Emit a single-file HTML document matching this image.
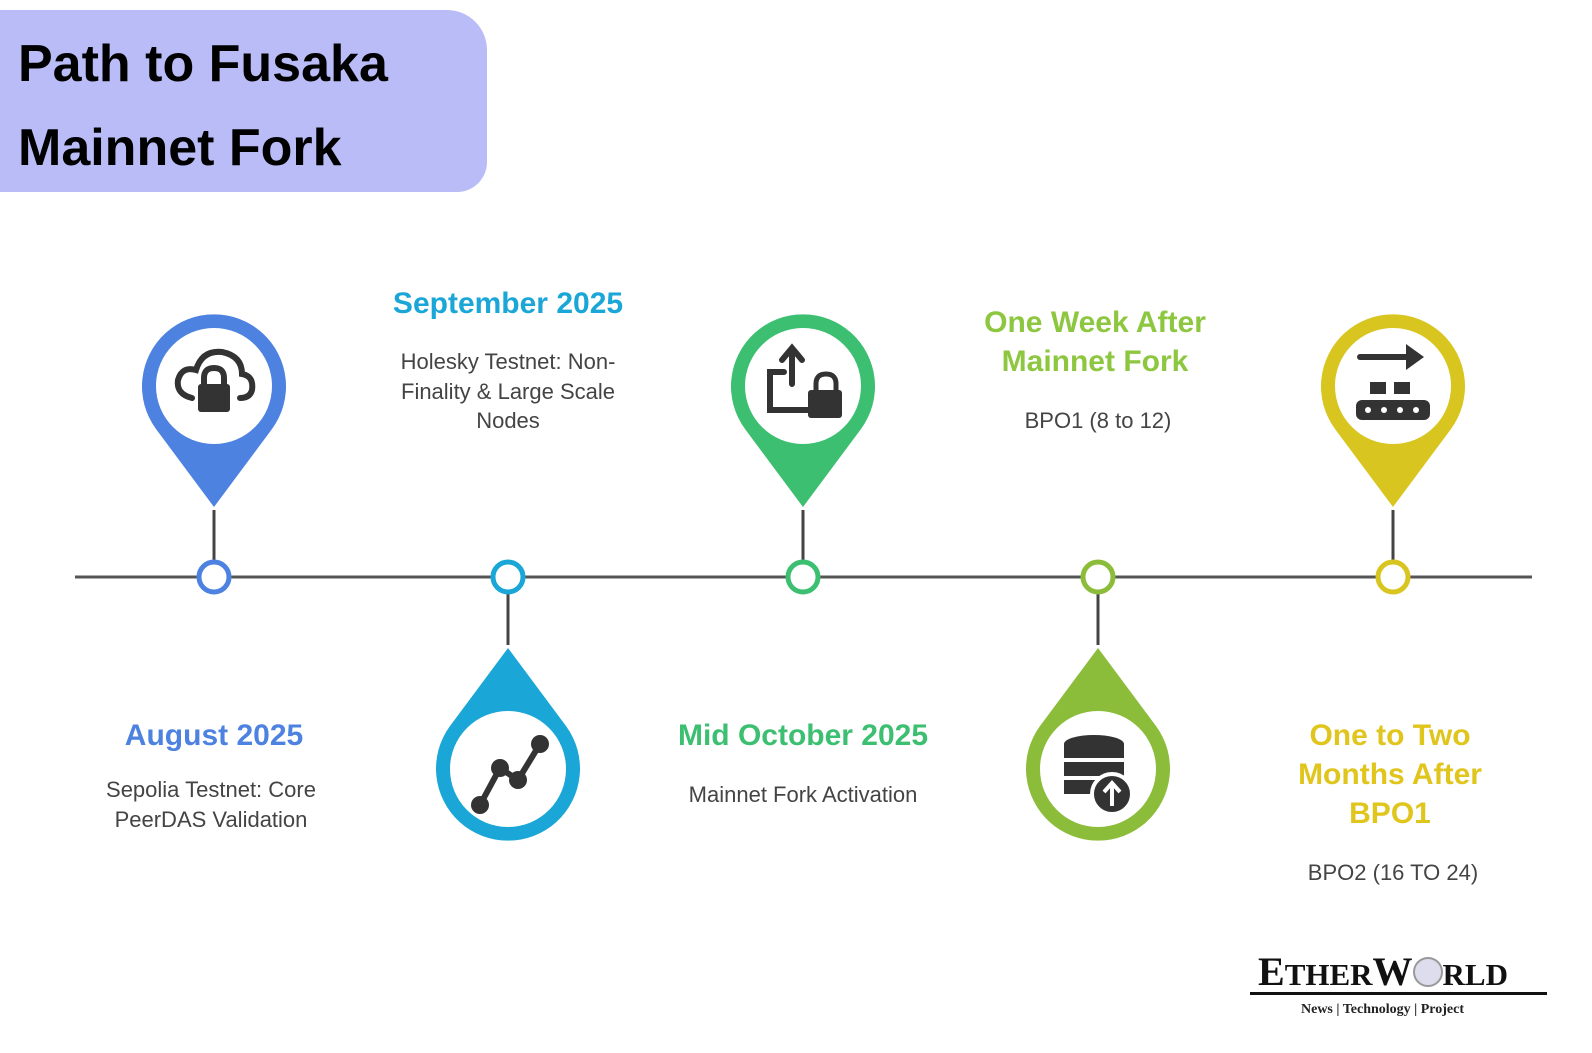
<!DOCTYPE html>
<html><head><meta charset="utf-8"><style>
body{margin:0;width:1592px;height:1053px;background:#fff;overflow:hidden;position:relative;font-family:"Liberation Sans",sans-serif}
.t{position:absolute;text-align:center;transform:translateX(-50%);white-space:nowrap}
.h{font-weight:bold;font-size:30px;line-height:39px}
.d{font-size:22px;color:#444;line-height:29.5px}
</style></head><body>
<div style="position:absolute;left:-20px;top:10px;width:507px;height:182px;background:#b9bcf7;border-radius:0 40px 30px 0"></div>
<div style="position:absolute;left:18px;top:22px;font-size:52px;font-weight:bold;line-height:84px;color:#000;font-family:'Liberation Sans',sans-serif">Path to Fusaka<br>Mainnet Fork</div>

<svg width="1592" height="1053" style="position:absolute;left:0;top:0">
<line x1="75" y1="577" x2="1532" y2="577" stroke="#555" stroke-width="3"/>
<!-- verticals -->
<g stroke="#444" stroke-width="3">
<line x1="214" y1="510" x2="214" y2="560"/><line x1="508" y1="594" x2="508" y2="645"/>
<line x1="803" y1="510" x2="803" y2="560"/><line x1="1098" y1="594" x2="1098" y2="645"/>
<line x1="1393" y1="510" x2="1393" y2="560"/>
</g>
<g fill="#fff" stroke-width="5">
<circle cx="214" cy="577" r="15" stroke="#4d82e0"/><circle cx="508" cy="577" r="15" stroke="#1aa6d6"/>
<circle cx="803" cy="577" r="15" stroke="#3dbf72"/><circle cx="1098" cy="577" r="15" stroke="#8cbd3a"/>
<circle cx="1393" cy="577" r="15" stroke="#d9c520"/>
</g>
<!-- top pins -->
<g id="p">
</g>
<path d="M214 507 L272 429 A72 72 0 1 0 156 429 Z" fill="#4d82e0"/><circle cx="214" cy="386" r="58" fill="#fff"/>
<path d="M803 507 L861 429 A72 72 0 1 0 745 429 Z" fill="#3dbf72"/><circle cx="803" cy="386" r="58" fill="#fff"/>
<path d="M1393 507 L1451 429 A72 72 0 1 0 1335 429 Z" fill="#d9c520"/><circle cx="1393" cy="386" r="58" fill="#fff"/>
<!-- bottom pins -->
<path d="M508 648 L566 726 A72 72 0 1 1 450 726 Z" fill="#1aa6d6"/><circle cx="508" cy="769" r="58" fill="#fff"/>
<path d="M1098 648 L1156 726 A72 72 0 1 1 1040 726 Z" fill="#8cbd3a"/><circle cx="1098" cy="769" r="58" fill="#fff"/>
<!-- icons -->
<g fill="none" stroke="#333" stroke-width="6" stroke-linecap="round">
<path d="M192 398 Q176 394 178 380 Q182 366 196 370 Q202 350 222 352 Q242 356 242 374 Q254 376 252 390 Q250 398 240 398"/>
<path d="M204 386 V378 Q204 368 214 368 Q224 368 224 378 V386"/>
<path d="M480 805 L500 768 L518 780 L540 744"/>
<path d="M792 350 V384 M782 360 L792 348 L802 360 M784 372 H770 V410 H812"/>
<path d="M1360 357 H1410"/>
</g>
<rect x="198" y="384" width="32" height="28" rx="3" fill="#333"/>
<circle cx="480" cy="805" r="9" fill="#333"/><circle cx="500" cy="768" r="9" fill="#333"/><circle cx="518" cy="780" r="9" fill="#333"/><circle cx="540" cy="744" r="9" fill="#333"/>
<path d="M816 392 V384 Q816 374 826 374 Q836 374 836 384 V392" fill="none" stroke="#333" stroke-width="5"/>
<rect x="808" y="390" width="34" height="28" rx="3" fill="#333"/>
<path d="M1406 344 L1424 357 L1406 370 Z" fill="#333"/>
<rect x="1370" y="382" width="16" height="12" fill="#333"/><rect x="1394" y="382" width="16" height="12" fill="#333"/>
<rect x="1356" y="400" width="74" height="20" rx="6" fill="#333"/>
<g fill="#fff"><circle cx="1368" cy="410" r="3"/><circle cx="1384" cy="410" r="3"/><circle cx="1400" cy="410" r="3"/><circle cx="1416" cy="410" r="3"/></g>
<g fill="#333"><ellipse cx="1094" cy="744" rx="30" ry="9"/><rect x="1064" y="744" width="60" height="14"/><rect x="1064" y="762" width="60" height="14"/><rect x="1064" y="780" width="50" height="14"/></g>
<circle cx="1112" cy="794" r="20" fill="#333" stroke="#fff" stroke-width="4"/>
<path d="M1112 806 V784 M1104 792 L1112 783 L1120 792" stroke="#fff" stroke-width="4" fill="none"/>
</svg>

<div class="t h" style="left:508px;top:284px;color:#1aa6d6">September 2025</div>
<div class="t d" style="left:508px;top:347px">Holesky Testnet: Non-<br>Finality &amp; Large Scale<br>Nodes</div>
<div class="t h" style="left:1095px;top:303px;color:#8dc63f">One Week After<br>Mainnet Fork</div>
<div class="t d" style="left:1098px;top:406px">BPO1 (8 to 12)</div>
<div class="t h" style="left:214px;top:716px;color:#4d82e0">August 2025</div>
<div class="t d" style="left:211px;top:775px">Sepolia Testnet: Core<br>PeerDAS Validation</div>
<div class="t h" style="left:803px;top:716px;color:#3dbf72">Mid October 2025</div>
<div class="t d" style="left:803px;top:780px">Mainnet Fork Activation</div>
<div class="t h" style="left:1390px;top:716px;color:#e0c51d">One to Two<br>Months After<br>BPO1</div>
<div class="t d" style="left:1393px;top:858px">BPO2 (16 TO 24)</div>

<div style="position:absolute;left:1258px;top:950px;font-family:'Liberation Serif',serif;font-weight:bold;font-size:40px;line-height:44px;color:#111;letter-spacing:0px">E<span style="font-size:31px">THER</span>W<span style="display:inline-block;width:26px;height:26px;border-radius:50%;background:#dde;border:2px solid #999;vertical-align:-2px"></span><span style="font-size:31px">RLD</span></div>
<div style="position:absolute;left:1250px;top:992px;width:297px;height:3px;background:#111"></div>
<div style="position:absolute;left:1301px;top:1002px;font-family:'Liberation Serif',serif;font-weight:bold;font-size:14px;color:#222">News | Technology | Project</div>
</body></html>
